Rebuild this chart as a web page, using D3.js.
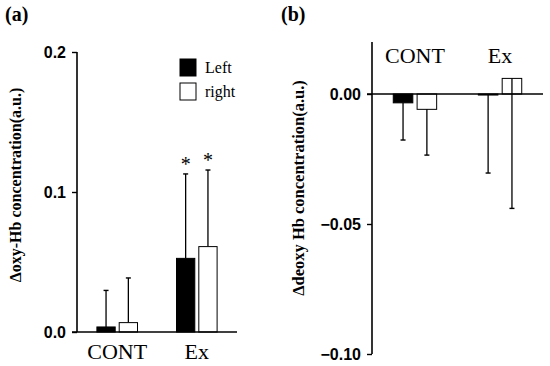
<!DOCTYPE html>
<html>
<head>
<meta charset="utf-8">
<script src="https://cdn.jsdelivr.net/npm/d3@7"></script>
<style>
  body { margin: 0; background: #fff; }
  svg { display: block; }
  .serif { font-family: "Liberation Serif", "DejaVu Serif", serif; }
  .tick text { font-family: "Liberation Sans", Arial, sans-serif; font-weight: bold; font-size: 16px; }
</style>
</head>
<body>
<svg id="chart" width="550" height="366"></svg>
<script>
// data
var groups = ["CONT", "Ex"];
var sides = ["Left", "right"];
var oxyLeft = [0.0036, 0.0526];
var oxyRight = [0.0067, 0.0610];
var oxyLeftSD = [0.0261, 0.0603];
var oxyRightSD = [0.0319, 0.0547];
var oxyStars = ["", "*"];
var deoxyLeft = [-0.0034, -0.0004];
var deoxyRight = [-0.0059, 0.0060];
var deoxyLeftSD = [0.0143, 0.0300];
var deoxyRightSD = [0.0176, 0.0500];
var oxyTicks = [0, 0.1, 0.2];
var deoxyTicks = [0, -0.05, -0.10];

var svg = d3.select("#chart");
var barColors = ["#000", "#fff"];

function drawPanel(opt) {
  var g = svg.append("g");
  var y = d3.scaleLinear().domain(opt.domain).range(opt.yRange);
  var x0 = d3.scaleBand().domain(groups).range(opt.xRange).paddingInner(0.49).paddingOuter(0.25);
  var x1 = d3.scaleBand().domain(sides).range([0, x0.bandwidth()]).paddingInner(0.18);

  // y axis
  var yAxis = d3.axisLeft(y).tickValues(opt.ticks).tickFormat(d3.format(opt.fmt)).tickSize(5).tickPadding(6);
  var ya = g.append("g").attr("transform", "translate(" + opt.xRange[0] + ",0)").call(yAxis);
  ya.select(".domain").attr("d", "M0," + y(opt.domain[0]) + "V" + y(opt.domain[1])).attr("stroke-width", 1.6);
  ya.selectAll(".tick line").attr("stroke-width", 1.4);

  // bars
  var rows = groups.map(function (grp, i) {
    return [
      { g: grp, s: "Left", v: opt.left[i], sd: opt.leftSD[i] },
      { g: grp, s: "right", v: opt.right[i], sd: opt.rightSD[i] }
    ];
  });
  var flat = [].concat.apply([], rows);

  // error bars (drawn first so bars cover them; panel b shows line over white bar)
  g.selectAll("line.err").data(flat).enter().append("line")
    .attr("x1", function (d) { return x0(d.g) + x1(d.s) + x1.bandwidth() / 2; })
    .attr("x2", function (d) { return x0(d.g) + x1(d.s) + x1.bandwidth() / 2; })
    .attr("y1", function (d) { return y(d.v); })
    .attr("y2", function (d) { return y(d.v + opt.dir * d.sd); })
    .attr("stroke", "#000").attr("stroke-width", 1.3);
  g.selectAll("line.cap").data(flat).enter().append("line")
    .attr("x1", function (d) { return x0(d.g) + x1(d.s) + x1.bandwidth() / 2 - 2.5; })
    .attr("x2", function (d) { return x0(d.g) + x1(d.s) + x1.bandwidth() / 2 + 2.5; })
    .attr("y1", function (d) { return y(d.v + opt.dir * d.sd); })
    .attr("y2", function (d) { return y(d.v + opt.dir * d.sd); })
    .attr("stroke", "#000").attr("stroke-width", 1.4);

  g.selectAll("rect.bar").data(flat).enter().append("rect")
    .attr("x", function (d) { return x0(d.g) + x1(d.s); })
    .attr("y", function (d) { return Math.min(y(d.v), y(0)); })
    .attr("width", x1.bandwidth())
    .attr("height", function (d) { return Math.max(Math.abs(y(d.v) - y(0)), 0.8); })
    .attr("fill", function (d) { return barColors[sides.indexOf(d.s)]; })
    .attr("fill-opacity", function (d) { return opt.overlay && d.s == "right" ? 0 : 1; })
    .attr("stroke", "#000").attr("stroke-width", 1);

  // x axis at zero
  g.append("line")
    .attr("x1", opt.xRange[0] - 5).attr("x2", opt.xRange[1])
    .attr("y1", y(0)).attr("y2", y(0))
    .attr("stroke", "#000").attr("stroke-width", 1.6);

  // group labels
  g.selectAll("text.grp").data(groups).enter().append("text")
    .attr("class", "serif")
    .attr("x", function (d) { return x0(d) + x0.bandwidth() / 2; })
    .attr("y", opt.labelY)
    .attr("text-anchor", "middle")
    .attr("font-size", 22)
    .text(function (d) { return d; });

  // y label
  g.append("text")
    .attr("class", "serif")
    .attr("transform", "translate(" + opt.yLabelX + "," + opt.yLabelY + ") rotate(-90)")
    .attr("text-anchor", "middle")
    .attr("font-weight", "bold")
    .attr("font-size", opt.yLabelSize)
    .text(opt.yLabel);

  // panel letter
  g.append("text")
    .attr("class", "serif")
    .attr("x", opt.letterX).attr("y", 21)
    .attr("font-weight", "bold")
    .attr("font-size", 20)
    .text(opt.letter);

  return { g: g, x0: x0, x1: x1, y: y, flat: flat };
}

// BEGIN oxy panel
var pa = drawPanel({
  domain: [0, 0.2], yRange: [332, 52], xRange: [77, 237],
  ticks: oxyTicks, fmt: ".1f",
  left: oxyLeft, right: oxyRight, leftSD: oxyLeftSD, rightSD: oxyRightSD, dir: 1,
  labelY: 359, yLabel: "\u0394oxy-Hb concentration(a.u.)", yLabelX: 21, yLabelY: 185, yLabelSize: 16,
  letter: "(a)", letterX: 5
});

// significance stars
pa.g.selectAll("text.star").data(pa.flat.filter(function (d) { return oxyStars[groups.indexOf(d.g)] != ""; }))
  .enter().append("text")
  .attr("class", "serif")
  .attr("x", function (d) { return pa.x0(d.g) + pa.x1(d.s) + pa.x1.bandwidth() / 2; })
  .attr("y", function (d) { return pa.y(d.v + d.sd) - 3; })
  .attr("text-anchor", "middle")
  .attr("font-size", 20)
  .text(function (d) { return oxyStars[groups.indexOf(d.g)]; });

// legend
var legend = pa.g.selectAll("g.leg").data(sides).enter().append("g")
  .attr("transform", function (d, i) { return "translate(180," + (59 + i * 24) + ")"; });
legend.append("rect").attr("width", 16).attr("height", 17)
  .attr("fill", function (d, i) { return barColors[i]; })
  .attr("stroke", "#000").attr("stroke-width", 1);
legend.append("text").attr("class", "serif")
  .attr("x", 25).attr("y", 14).attr("font-size", 16)
  .text(function (d) { return d; });
// END oxy panel

// BEGIN deoxy panel
var pb = drawPanel({
  domain: [-0.10, 0.02], yRange: [354, 42], xRange: [372, 543],
  ticks: deoxyTicks, fmt: ".2f",
  left: deoxyLeft, right: deoxyRight, leftSD: deoxyLeftSD, rightSD: deoxyRightSD, dir: -1,
  overlay: true,
  labelY: 63, yLabel: "\u0394deoxy Hb concentration(a.u.)", yLabelX: 304, yLabelY: 188, yLabelSize: 16.5,
  letter: "(b)", letterX: 281
});
// END deoxy panel
</script>
</body>
</html>
